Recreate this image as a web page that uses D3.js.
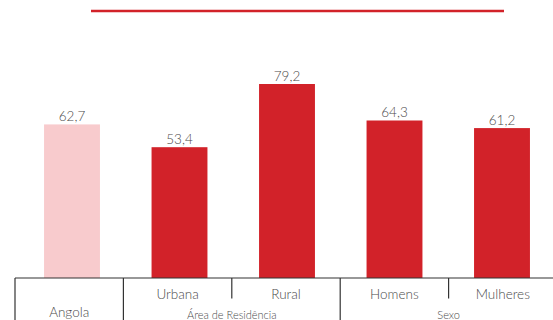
<!DOCTYPE html>
<html>
<head>
<meta charset="utf-8">
<script src="https://cdn.jsdelivr.net/npm/d3@7"></script>
<style>
  html, body { margin: 0; padding: 0; background: #fff; }
  svg { display: block; }
  text { font-family: Lato, "Open Sans", sans-serif; font-weight: 300; fill: #4a4a4a; }
</style>
</head>
<body>
<svg id="chart" width="553" height="320"></svg>
<script>
// Share by area of residence and sex
const categories = ["Angola", "Urbana", "Rural", "Homens", "Mulheres"];
const values = [62.7, 53.4, 79.2, 64.3, 61.2];
const valueLabels = ["62,7", "53,4", "79,2", "64,3", "61,2"];
const groups = [
  { label: "", members: ["Angola"] },
  { label: "Área de Residência", members: ["Urbana", "Rural"] },
  { label: "Sexo", members: ["Homens", "Mulheres"] }
];
const shownCategoryLabels = ["", "Urbana", "Rural", "Homens", "Mulheres"];

const svg = d3.select("#chart");
const W = 553, H = 320;
const baseY = 278;

// bar placement and category cells
const x = d3.scaleBand().domain(categories).range([18.25, 555.75]).paddingInner(0.48).paddingOuter(0.24);
const xStep = d3.scaleBand().domain(categories).range([15, 557]).padding(0);
const y = d3.scaleLinear().domain([0, 79.2]).range([baseY, 84]);

const red = "#d22229";
const pale = "#f8cbcd";

// top rule
svg.append("line")
  .attr("x1", 91).attr("x2", 504).attr("y1", 11).attr("y2", 11)
  .attr("stroke", red).attr("stroke-width", 2.4);

// bars
svg.selectAll("rect.bar").data(categories).join("rect")
  .attr("class", "bar")
  .attr("x", d => x(d))
  .attr("width", x.bandwidth())
  .attr("y", (d, i) => y(values[i]))
  .attr("height", (d, i) => baseY - y(values[i]))
  .attr("fill", (d, i) => i === 0 ? pale : red);

// value labels
svg.selectAll("text.val").data(categories).join("text")
  .attr("class", "val")
  .attr("x", d => x(d) + x.bandwidth() / 2)
  .attr("y", (d, i) => y(values[i]) - 3.5)
  .attr("text-anchor", "middle")
  .attr("font-size", 13.5)
  .text((d, i) => valueLabels[i]);

// category axis frame
const axis = svg.append("g").attr("stroke", "#333").attr("stroke-width", 1.2);
axis.append("line").attr("x1", xStep(categories[0])).attr("x2", W).attr("y1", baseY).attr("y2", baseY);

// group boundaries (full height) and inner dividers (short)
groups.forEach(g => {
  const start = xStep(g.members[0]);
  axis.append("line").attr("x1", start).attr("x2", start).attr("y1", baseY).attr("y2", H);
  g.members.slice(1).forEach(m => {
    const xm = xStep(m);
    axis.append("line").attr("x1", xm).attr("x2", xm).attr("y1", baseY).attr("y2", 298.5);
  });
});

// category labels
svg.selectAll("text.cat").data(categories).join("text")
  .attr("class", "cat")
  .attr("x", d => xStep(d) + xStep.bandwidth() / 2)
  .attr("y", 298.5)
  .attr("text-anchor", "middle")
  .attr("font-size", 13.5)
  .text((d, i) => shownCategoryLabels[i]);

// group labels
svg.selectAll("text.grp").data(groups).join("text")
  .attr("class", "grp")
  .attr("x", g => {
    if (g.members.length === 1) return xStep(g.members[0]) + xStep.bandwidth() / 2;
    return xStep(g.members[1]);
  })
  .attr("y", g => g.members.length === 1 ? 316.5 : 318.5)
  .attr("text-anchor", "middle")
  .attr("font-size", g => g.members.length === 1 ? 13.5 : 11)
  .text(g => g.members.length === 1 ? g.members[0] : g.label);
</script>
</body>
</html>
